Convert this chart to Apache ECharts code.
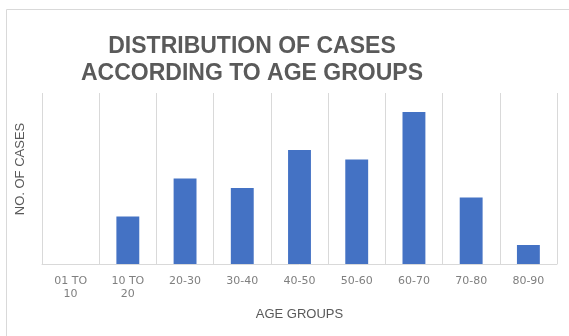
<html>
<head>
<meta charset="UTF-8" />
<title></title>
<script src="https://cdn.jsdelivr.net/npm/echarts@6/dist/echarts.min.js"></script>
<style>
html, body { margin:0; padding:0; background:#fff; }
#main { width:569px; height:336px; }
</style>
</head>
<body>
<div id="main"></div>
<script type="text/javascript">
// age groups and number of cases
var ageGroups = ['01 TO\n10', '10 TO\n20', '20-30', '30-40', '40-50', '50-60', '60-70', '70-80', '80-90'];
var cases = [0, 5, 9, 8, 12, 11, 16, 7, 2];
var yMax = 18;

var myChart = echarts.init(document.getElementById('main'));

myChart.setOption({
    animation: false,
    title: {
        text: 'DISTRIBUTION OF CASES\nACCORDING TO AGE GROUPS',
        left: 252,
        top: 33,
        padding: 0,
        textAlign: 'center',
        textStyle: {
            fontFamily: 'Liberation Sans',
            fontWeight: 'bold',
            fontSize: 23,
            lineHeight: 27,
            color: '#5a5a5a'
        }
    },
    graphic: [{
        type: 'rect',
        shape: { x: 6.5, y: 9.5, width: 700, height: 500 },
        style: { fill: 'none', stroke: '#d9d9d9', lineWidth: 1 },
        silent: true
    }],
    grid: { left: 42, right: 12, top: 93, bottom: 72 },
    xAxis: {
        type: 'category',
        data: ageGroups,
        name: 'AGE GROUPS',
        nameLocation: 'middle',
        nameGap: 44,
        nameTextStyle: { fontFamily: 'Liberation Sans', fontSize: 13, color: '#595959' },
        axisLine: { lineStyle: { color: '#d9d9d9' } },
        axisTick: { show: false },
        axisLabel: {
            interval: 0,
            margin: 11,
            fontFamily: 'DejaVu Sans',
            fontSize: 11,
            lineHeight: 13,
            color: '#7f7f7f'
        },
        splitLine: { show: true, lineStyle: { color: '#d9d9d9' } }
    },
    yAxis: {
        type: 'value',
        min: 0,
        max: yMax,
        name: 'NO. OF CASES',
        nameLocation: 'middle',
        nameGap: 15,
        nameTextStyle: { fontFamily: 'Liberation Sans', fontSize: 13, color: '#595959', padding: [0, 0, 0, 19] },
        axisLine: { show: false },
        axisTick: { show: false },
        axisLabel: { show: false },
        splitLine: { show: false }
    },
    series: [{
        name: 'NO. OF CASES',
        type: 'bar',
        data: cases,
        barWidth: '40%',
        itemStyle: { color: '#4472c4' }
    }]
});
</script>
</body>
</html>
